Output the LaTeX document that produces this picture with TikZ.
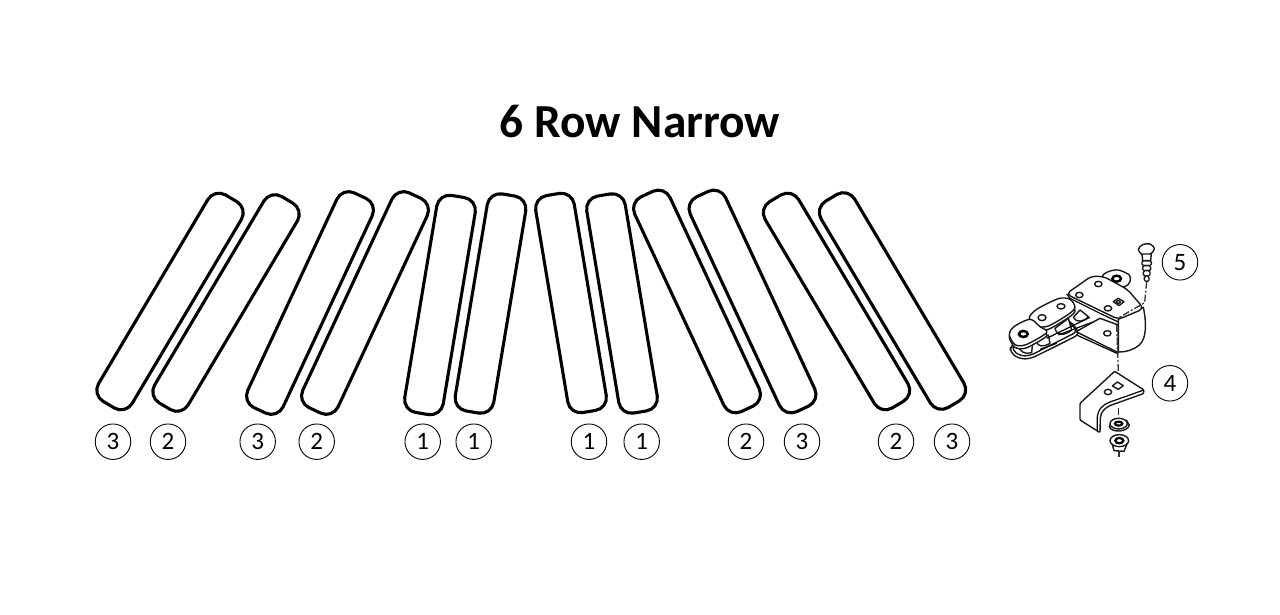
\documentclass[tikz,border=0pt]{standalone}
\usepackage{fontspec}
\setmainfont{Carlito}
\usepackage{xcolor}
\usetikzlibrary{calc}
\tikzset{
    slat/.style={draw, rectangle, rounded corners=13pt, line width=3.1pt, minimum height=39pt, inner sep=0pt},
    longslat/.style={slat, minimum width=240pt},
    midslat/.style={slat, minimum width=237pt},
    shortslat/.style={slat, minimum width=220pt},
    tag/.style={draw, circle, line width=0.9pt, minimum size=35.5pt, inner sep=0pt, font=\fontsize{25}{25}\selectfont},
    part/.style={draw=black!90, line width=1.4pt, fill=white, line join=round},
    centreline/.style={draw=black!80, line width=1.3pt, dash pattern=on 7pt off 2pt on 2pt off 2pt},
}
\begin{document}
\begin{tikzpicture}[x=1pt, y=-1pt]
    \useasboundingbox (0,0) rectangle (1280,615);
    \node[font=\bfseries\fontsize{47.4}{52}\selectfont] (title) at (640,121) {6 Row Narrow};
    % slats, left half
    \node[longslat, rotate=59.3] (slat1) at (170,301.5) {};
    \node[longslat, rotate=59.3] (slat2) at (226,303) {};
    \node[midslat, rotate=65] (slat3) at (310,303) {};
    \node[midslat, rotate=65] (slat4) at (365,303) {};
    \node[shortslat, rotate=80.5] (slat5) at (440,305) {};
    \node[shortslat, rotate=80.5] (slat6) at (490.5,303.5) {};
    % slats, right half
    \node[shortslat, rotate=-80.5] (slat7) at (571,303) {};
    \node[shortslat, rotate=-80.5] (slat8) at (622,303.5) {};
    \node[midslat, rotate=-65] (slat9) at (697,301.5) {};
    \node[midslat, rotate=-65] (slat10) at (752.5,301.5) {};
    \node[longslat, rotate=-59.3] (slat11) at (836.5,301.5) {};
    \node[longslat, rotate=-59.3] (slat12) at (892.5,301) {};
    % part numbers
    \node[tag] (tag1) at (113,441.7) {3};
    \node[tag] (tag2) at (168,441.7) {2};
    \node[tag] (tag3) at (257.7,441.7) {3};
    \node[tag] (tag4) at (316.7,441.7) {2};
    \node[tag] (tag5) at (422.7,441.7) {1};
    \node[tag] (tag6) at (473.7,441.7) {1};
    \node[tag] (tag7) at (589,441.7) {1};
    \node[tag] (tag8) at (641.7,441.7) {1};
    \node[tag] (tag9) at (746,441.7) {2};
    \node[tag] (tag10) at (802,441.7) {3};
    \node[tag] (tag11) at (896,441.7) {2};
    \node[tag] (tag12) at (952,441.7) {3};
    \node[tag] (tag13) at (1180,262.3) {5};
    \node[tag] (tag14) at (1170,383.3) {4};
    % attachment, drawn back to front
    \begin{scope}[shift={(990,230)}, x=0.3333pt, y=-0.3333pt]
        % lower chain plates
        \draw[part, rounded corners=5pt] (62,345) -- (60,368) -- (90,387) -- (122,386) -- (205,345) -- (270,312) -- (240,270) -- cycle;
        \draw[part, rounded corners=4pt] (70,342) -- (68,362) -- (92,378) -- (120,377) -- (262,305) -- (230,265) -- cycle;
        % rollers
        \draw[part] (85,340) .. controls (85,365) and (105,375) .. (125,368) -- (128,335) -- cycle;
        \draw[part] (140,335) .. controls (142,350) and (160,352) .. (180,340) -- (175,315) -- cycle;
        \draw[part] (195,295) .. controls (200,318) and (225,318) .. (245,300) -- (235,265) -- cycle;
        \draw[part] (250,262) .. controls (258,280) and (285,275) .. (295,260) -- (270,240) -- cycle;
        \draw[line width=1.2pt] (170,325) -- (300,262) (150,358) -- (200,340) (205,315) -- (330,268);
        % rear ear of the big plate
        \draw[part] plot[smooth cycle] coordinates {(338,140) (355,125) (385,120) (418,135) (420,155) (405,170) (370,170)};
        \draw[line width=2.4pt] (380,146) ellipse (13 and 9);
        % lower plate of the bracket
        \draw[part] (258,305) -- (330,265) -- (385,285) -- (385,368) -- cycle;
        \draw[line width=1.2pt] (262,316) -- (385,372);
        \draw[part] (352,310) ellipse (11 and 8);
        % block
        \draw[part] (385,268) -- (460,232) .. controls (470,280) and (470,325) .. (448,345) .. controls (430,360) and (410,366) .. (385,366) -- cycle;
        % big plate
        \draw[part, rounded corners=5pt] (228,192) -- (305,138) -- (342,140) -- (412,178) -- (462,236) -- (385,268) -- cycle;
        \draw[line width=1.2pt] (230,192) -- (240,205) -- (330,250) -- (385,276);
        \draw[part] (268,195) ellipse (11 and 8);
        \draw[part] (325,162) ellipse (11 and 8);
        \draw[part] (354,235) ellipse (11 and 8);
        \draw[part] (370,215) -- (385,205) -- (402,215) -- (387,227) -- cycle;
        \draw[part] (385,216) ellipse (6 and 4);
        % upper chain links
        \draw[part] plot[smooth cycle] coordinates {(118,274) (140,248) (205,214) (240,218) (255,243) (235,263) (175,298) (138,298)};
        \draw[part] plot[smooth cycle] coordinates {(118,264) (140,238) (205,206) (240,208) (255,232) (235,253) (175,288) (138,288)};
        \draw[part] (156,263) ellipse (12 and 9);
        \draw[part] (213,229) ellipse (12 and 8);
        \draw[part] plot[smooth cycle] coordinates {(58,322) (72,298) (120,278) (150,300) (170,318) (108,354) (75,352)};
        \draw[part] plot[smooth cycle] coordinates {(58,314) (72,290) (120,268) (150,290) (170,308) (108,344) (75,344)};
        \draw[line width=2.6pt] (100,312) ellipse (13 and 9);
        % bolt
        \draw[part] plot[smooth cycle] coordinates {(445,58) (458,44) (480,42) (493,55) (482,72) (458,75)};
        \draw[part, rounded corners=1.5pt] (456,92) rectangle (484,107);
        \draw[part, rounded corners=1.5pt] (458,107) rectangle (482,122);
        \draw[part, rounded corners=1.5pt] (460,122) rectangle (480,138);
        \draw[part, rounded corners=1.5pt] (463,138) rectangle (477,154);
        \draw[part] (456,72) -- (484,72) -- (482,92) -- (458,92) -- cycle;
        % bracket
        \draw[part, rounded corners=1pt] (374,424) -- (462,480) -- (460,491) -- (362,526) .. controls (345,534) and (333,545) .. (331,565) -- (330,608) -- (270,570) -- (270,520) -- cycle;
        \draw[line width=1.2pt] (462,480) -- (360,516) .. controls (335,526) and (324,540) .. (322,560) -- (322,602);
        \draw[part] (354,486) ellipse (11 and 8);
        \draw[part] (367,468) -- (382,456) -- (400,467) -- (385,478) -- cycle;
        % nuts
        \draw[part] (358,590) .. controls (362,608) and (412,608) .. (418,586) -- (410,572) -- (365,572) -- cycle;
        \draw[part] (386,581) ellipse (26 and 16);
        \draw[line width=2.2pt] (386,581) ellipse (11 and 6);
        \draw[part] (366,640) -- (372,662) -- (402,664) -- (412,640) -- cycle;
        \draw[part] (388,632) ellipse (28 and 18);
        \draw[line width=2.2pt] (388,632) ellipse (12 and 8);
        % centre lines
        \draw[centreline] (470,155) -- (464,218) -- (388,262);
        \draw[centreline] (380,285) -- (385,425);
        \draw[centreline] (386,535) -- (386,560);
        \draw[centreline] (387,664) -- (387,682);
    \end{scope}
\end{tikzpicture}
\end{document}
